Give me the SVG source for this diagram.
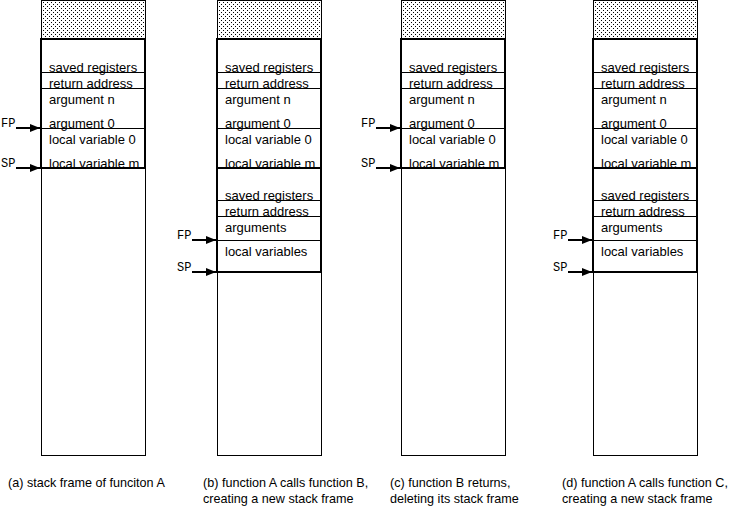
<svg xmlns="http://www.w3.org/2000/svg" width="734" height="508" viewBox="0 0 734 508">
<defs>
<pattern id="dots" width="4" height="4" patternUnits="userSpaceOnUse">
<rect width="4" height="4" fill="#fff"/>
<rect x="0" y="0" width="1" height="1" fill="#000"/>
<rect x="2" y="2" width="1" height="1" fill="#000"/>
</pattern>
<marker id="ah" viewBox="0 0 10 8" refX="10" refY="4" markerWidth="5" markerHeight="4" orient="auto" markerUnits="strokeWidth">
<path d="M0,0 L10,4 L0,8 z" fill="#000"/>
</marker>
<g id="frameA">
<rect x="0" y="39" width="104" height="129" fill="none" stroke="#000" stroke-width="2"/>
<line x1="0" y1="72.5" x2="104" y2="72.5" class="thin"/>
<line x1="0" y1="88.5" x2="104" y2="88.5" class="thin"/>
<line x1="0" y1="128.5" x2="104" y2="128.5" class="thin"/>
<text class="cell" x="8" y="72">saved registers</text>
<text class="cell" x="8" y="88">return address</text>
<text class="cell" x="8" y="104">argument n</text>
<text class="cell" x="8" y="128">argument 0</text>
<text class="cell" x="8" y="144">local variable 0</text>
<text class="cell" x="8" y="168">local variable m</text>
</g>
<g id="frameN">
<rect x="0" y="168" width="104" height="104" fill="none" stroke="#000" stroke-width="2"/>
<line x1="0" y1="200.5" x2="104" y2="200.5" class="thin"/>
<line x1="0" y1="216.5" x2="104" y2="216.5" class="thin"/>
<line x1="0" y1="240.5" x2="104" y2="240.5" class="thin"/>
<text class="cell" x="8" y="200">saved registers</text>
<text class="cell" x="8" y="216">return address</text>
<text class="cell" x="8" y="232">arguments</text>
<text class="cell" x="8" y="256">local variables</text>
</g>
</defs>
<style>
.cell{font-family:"Liberation Sans",Arial,sans-serif;font-size:13px;fill:#000}
.cap{font-family:"Liberation Sans",Arial,sans-serif;font-size:12.6px;fill:#000}
.thin{stroke:#000;stroke-width:1}
.col{fill:#fff;stroke:#000;stroke-width:1}
.hatch{fill:url(#dots);stroke:#000;stroke-width:1}
.ptr{stroke:#000;stroke-width:2;marker-end:url(#ah)}
</style>
<rect width="734" height="508" fill="#fff"/>

<g id="stack-a" transform="translate(41,0)">
<rect class="col" x="0.5" y="0.5" width="104" height="455"/>
<rect class="hatch" x="0.5" y="0.5" width="104" height="38.5"/>
<use href="#frameA"/>
</g>
<g id="stack-b" transform="translate(217,0)">
<rect class="col" x="0.5" y="0.5" width="104" height="455"/>
<rect class="hatch" x="0.5" y="0.5" width="104" height="38.5"/>
<use href="#frameA"/>
<use href="#frameN"/>
</g>
<g id="stack-c" transform="translate(401,0)">
<rect class="col" x="0.5" y="0.5" width="104" height="455"/>
<rect class="hatch" x="0.5" y="0.5" width="104" height="38.5"/>
<use href="#frameA"/>
</g>
<g id="stack-d" transform="translate(593,0)">
<rect class="col" x="0.5" y="0.5" width="104" height="455"/>
<rect class="hatch" x="0.5" y="0.5" width="104" height="38.5"/>
<use href="#frameA"/>
<use href="#frameN"/>
</g>

<g id="connectors">
<line class="ptr" x1="16" y1="128" x2="40" y2="128"/>
<line class="ptr" x1="16" y1="168" x2="40" y2="168"/>
<line class="ptr" x1="192" y1="240" x2="216" y2="240"/>
<line class="ptr" x1="192" y1="272" x2="216" y2="272"/>
<line class="ptr" x1="376" y1="128" x2="400" y2="128"/>
<line class="ptr" x1="376" y1="168" x2="400" y2="168"/>
<line class="ptr" x1="568" y1="240" x2="592" y2="240"/>
<line class="ptr" x1="568" y1="272" x2="592" y2="272"/>
</g>

<g id="pointer-labels" font-family="'Liberation Mono', 'Courier New', monospace" font-size="12" fill="#000">
<text x="1" y="127">FP</text>
<text x="1" y="167">SP</text>
<text x="177" y="239">FP</text>
<text x="177" y="271">SP</text>
<text x="361" y="127">FP</text>
<text x="361" y="167">SP</text>
<text x="553" y="239">FP</text>
<text x="553" y="271">SP</text>
</g>

<g id="captions">
<text class="cap" x="8" y="487">(a) stack frame of funciton A</text>
<text class="cap" x="203" y="487">(b) function A calls function B,</text>
<text class="cap" x="203" y="503">creating a new stack frame</text>
<text class="cap" x="390" y="487">(c) function B returns,</text>
<text class="cap" x="390" y="503">deleting its stack frame</text>
<text class="cap" x="562" y="487">(d) function A calls function C,</text>
<text class="cap" x="562" y="503">creating a new stack frame</text>
</g>
</svg>
